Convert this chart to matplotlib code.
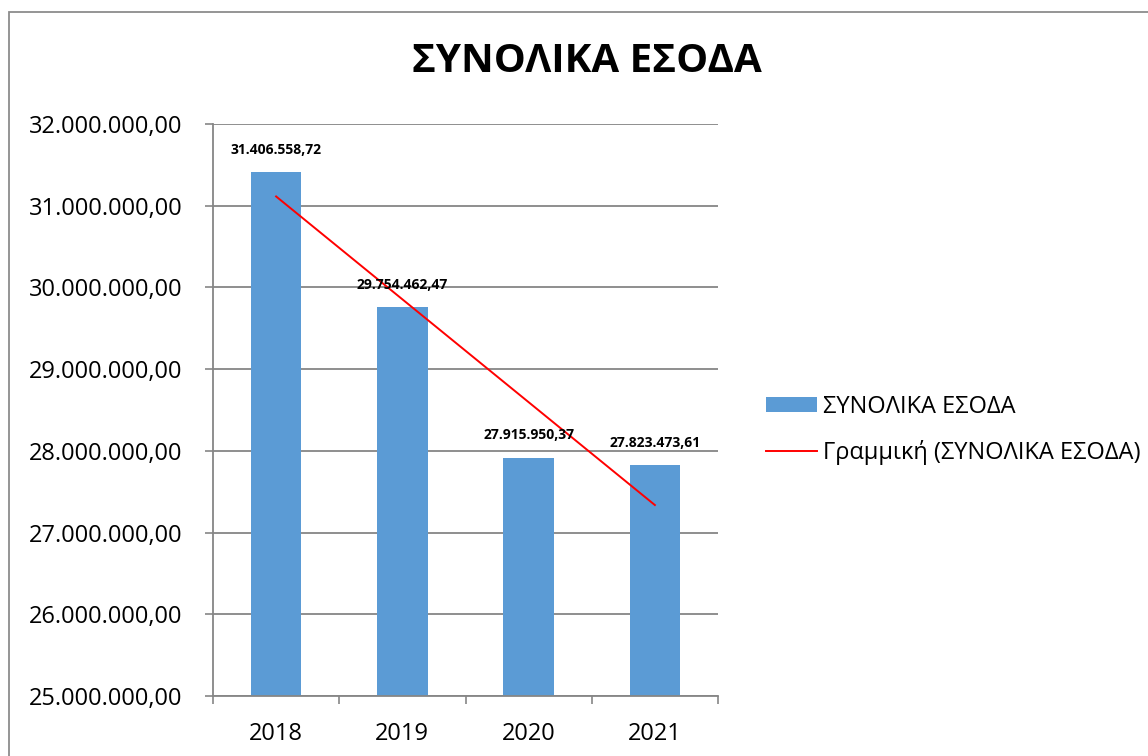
import numpy as np
import matplotlib
matplotlib.use("Agg")
import matplotlib.pyplot as plt
import matplotlib.ticker as mtick
from matplotlib.patches import Rectangle

plt.rcParams["font.family"] = ["Open Sans", "DejaVu Sans"]

#δεδομένα
years = ["2018", "2019", "2020", "2021"]
totals = [31406558.72, 29754462.47, 27915950.37, 27823473.61]
series_name = "ΣΥΝΟΛΙΚΑ ΕΣΟΔΑ"
trend_name = "Γραμμική (ΣΥΝΟΛΙΚΑ ΕΣΟΔΑ)"
y_ticks = [25e6, 26e6, 27e6, 28e6, 29e6, 30e6, 31e6, 32e6]


def greek_num(v: float) -> str:
    #1.234.567,89
    s = f"{v:,.2f}"
    return s.replace(",", "X").replace(".", ",").replace("X", ".")


W, H = 1148, 756
fig = plt.figure(figsize=(W / 100, H / 100), dpi=100)
ax = fig.add_axes([213 / W, (H - 696) / H, (718 - 213) / W, (696 - 124) / H])

grid_c = "#868686"
x = np.arange(len(years))
bars = ax.bar(x, totals, width=0.4, color="#5B9BD5", zorder=2, label=series_name)

#γραμμή τάσης
k, b = np.polyfit(x, totals, 1)
trend, = ax.plot(x, k * x + b, color="#FF0000", lw=1.4, zorder=3, label=trend_name)

for xi, v in zip(x, totals):
    ax.annotate(greek_num(v), (xi, v), xytext=(0, 11), textcoords="offset points",
                ha="center", va="bottom", fontsize=10, fontweight="bold")

ax.set_ylim(25e6, 32e6)
ax.set_xlim(-0.5, 3.5)
ax.set_yticks(y_ticks)
ax.yaxis.set_major_formatter(mtick.FuncFormatter(lambda v, p: greek_num(v)))
ax.set_xticks(x)
ax.set_xticklabels(years)
ax.set_xticks(np.arange(-0.5, 4.0, 1.0), minor=True)

ax.grid(axis="y", color=grid_c, lw=1.3, zorder=0)
ax.set_axisbelow(True)
for side in ["top", "right"]:
    ax.spines[side].set_visible(False)
for side in ["left", "bottom"]:
    ax.spines[side].set_color(grid_c)
    ax.spines[side].set_linewidth(1.3)

ax.tick_params(axis="y", length=5.8, width=1.2, color=grid_c, pad=16, labelsize=17)
ax.tick_params(axis="x", which="major", length=0, pad=19, labelsize=17)
ax.tick_params(axis="x", which="minor", length=5.8, width=1.2, color=grid_c)

fig.legend(handles=[bars, trend], loc="center left", bbox_to_anchor=(766 / W, 1 - 430 / H),
           frameon=False, fontsize=17, handlelength=2.15, handleheight=0.65,
           handletextpad=0.25, labelspacing=0.9, borderpad=0, borderaxespad=0)

fig.text(587 / W, 1 - 62 / H, series_name, ha="center", va="center",
         fontsize=29, fontweight="bold")

#περίγραμμα
fig.patches.append(Rectangle((9 / W, -0.1), 2, (H - 12) / H + 0.1, transform=fig.transFigure,
                             fill=False, edgecolor="#8c8c8c", lw=1.3))

fig.savefig("out.png", dpi=100)
